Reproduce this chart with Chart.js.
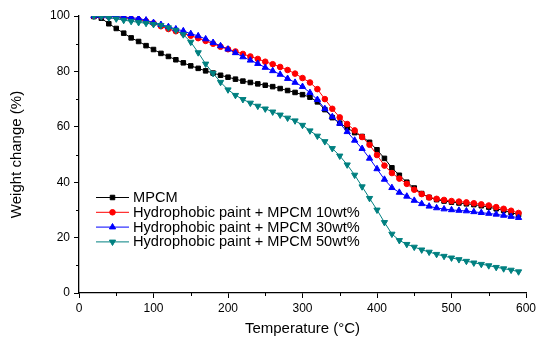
<!DOCTYPE html>
<html>
<head>
<meta charset="utf-8">
<script src="https://cdn.jsdelivr.net/npm/chart.js@4.4.1/dist/chart.umd.min.js"></script>
<style>
    html, body { margin: 0; padding: 0; background: #fff; }
    canvas { display: block; }
</style>
</head>
<body>
<canvas id="tgaChart" width="536" height="338"></canvas>
<script>
// ==========================
// DATA
// ==========================

const temps = [
    20, 30, 40, 50, 60, 70, 80, 90, 100, 110,
    120, 130, 140, 150, 160, 170, 180, 190, 200, 210,
    220, 230, 240, 250, 260, 270, 280, 290, 300, 310,
    320, 330, 340, 350, 360, 370, 380, 390, 400, 410,
    420, 430, 440, 450, 460, 470, 480, 490, 500, 510,
    520, 530, 540, 550, 560, 570, 580, 590
];

const mpcm = [
    99.8, 99.2, 97.2, 95.5, 93.8, 92.1, 90.8, 89.3, 87.9, 86.5,
    85.4, 84.2, 83.1, 82.0, 81.1, 80.2, 79.4, 78.6, 77.9, 77.2,
    76.5, 76.0, 75.5, 75.0, 74.5, 73.8, 73.1, 72.4, 71.6, 70.7,
    69.0, 66.2, 63.3, 61.3, 59.6, 57.9, 56.5, 54.4, 51.7, 48.6,
    45.2, 42.5, 40.0, 37.9, 35.9, 34.5, 33.7, 33.2, 32.8, 32.5,
    32.2, 31.9, 31.5, 31.0, 30.4, 29.8, 29.0, 28.3
];

const paint10 = [
    100, 99.9, 99.8, 99.6, 99.3, 99.0, 98.6, 98.1, 97.4, 96.3,
    95.3, 94.5, 93.7, 92.9, 92.0, 91.0, 90.0, 88.9, 88.0, 87.2,
    86.3, 85.4, 84.5, 83.5, 82.6, 81.6, 80.5, 79.2, 77.6, 76.0,
    73.6, 70.0, 66.5, 63.4, 61.0, 58.7, 56.3, 53.5, 49.8, 46.0,
    43.3, 41.3, 39.4, 37.3, 35.7, 34.5, 34.0, 33.6, 33.2, 33.0,
    32.7, 32.4, 32.0, 31.6, 31.0, 30.4, 29.7, 28.9
];

const paint30 = [
    100, 100, 99.9, 99.8, 99.6, 99.4, 99.1, 98.5, 97.6, 96.9,
    96.1, 95.3, 94.6, 93.6, 92.8, 91.7, 90.4, 89.2, 88.0, 86.7,
    85.2, 84.0, 82.8, 81.4, 80.2, 78.9, 77.4, 76.0, 74.5, 72.3,
    69.8, 66.5, 63.6, 61.2, 58.2, 55.1, 52.1, 48.6, 44.8, 41.0,
    38.0, 36.3, 34.9, 33.4, 32.2, 31.3, 30.7, 30.3, 30.0, 29.8,
    29.6, 29.3, 29.0, 28.7, 28.4, 28.0, 27.6, 27.2
];

const paint50 = [
    100, 99.8, 99.4, 99.0, 98.5, 98.1, 97.7, 97.4, 97.0, 96.6,
    95.8, 94.9, 93.3, 90.6, 86.8, 82.7, 79.3, 76.1, 73.4, 71.4,
    69.9, 68.6, 67.5, 66.5, 65.4, 64.3, 63.2, 62.2, 60.6, 58.6,
    56.7, 54.7, 52.2, 49.5, 46.3, 42.6, 38.4, 34.2, 30.0, 25.5,
    21.3, 19.0, 17.6, 16.6, 15.6, 14.8, 14.0, 13.3, 12.7, 12.1,
    11.5, 10.9, 10.4, 9.9, 9.3, 8.8, 8.3, 7.7
];

const seriesLabels = [
    "MPCM",
    "Hydrophobic paint + MPCM 10wt%",
    "Hydrophobic paint + MPCM 30wt%",
    "Hydrophobic paint + MPCM 50wt%"
];

const xTicks = [0, 100, 200, 300, 400, 500, 600];
const yTicks = [0, 20, 40, 60, 80, 100];

const FONT = '"Liberation Sans", Arial, sans-serif';

function toPoints(values) {
    return values.map((v, i) => ({ x: temps[i], y: v }));
}

// small outward minor ticks like the Origin plot
const minorTicks = {
    id: "minorTicks",
    afterDraw(chart) {
        const ctx = chart.ctx;
        const xs = chart.scales.x;
        const ys = chart.scales.y;
        const area = chart.chartArea;

        ctx.save();
        ctx.strokeStyle = "#000";
        ctx.lineWidth = 1;
        ctx.beginPath();
        for (let v = 50; v < 600; v += 100) {
            const px = Math.round(xs.getPixelForValue(v)) + 0.5;
            ctx.moveTo(px, area.bottom);
            ctx.lineTo(px, area.bottom + 3);
        }
        for (let v = 10; v < 100; v += 20) {
            const py = Math.round(ys.getPixelForValue(v)) + 0.5;
            ctx.moveTo(area.left, py);
            ctx.lineTo(area.left - 3, py);
        }
        ctx.stroke();
        ctx.restore();
    }
};

// legend inside the plot, line + marker + label
const insideLegend = {
    id: "insideLegend",
    afterDraw(chart) {
        const ctx = chart.ctx;

        chart.data.datasets.forEach((ds, i) => {
            const y = 197.5 + i * 14.8;

            ctx.save();
            ctx.strokeStyle = ds.borderColor;
            ctx.lineWidth = 1;
            ctx.beginPath();
            ctx.moveTo(96, y);
            ctx.lineTo(129, y);
            ctx.stroke();

            ctx.fillStyle = ds.pointBackgroundColor;
            ctx.strokeStyle = ds.borderColor;
            Chart.helpers.drawPoint(ctx, {
                pointStyle: ds.pointStyle,
                rotation: ds.pointRotation || 0,
                radius: ds.pointRadius,
                borderWidth: 1
            }, 112.5, y);

            ctx.fillStyle = "#000";
            ctx.font = "14.6px " + FONT;
            ctx.textBaseline = "middle";
            ctx.textAlign = "left";
            ctx.fillText(ds.label, 133, y + 0.5);
            ctx.restore();
        });
    }
};

const lineColors = ["#000000", "#ff0000", "#0000ff", "#008080"];

const canvas = document.getElementById("tgaChart");

new Chart(canvas, {
    type: "line",

    data: {
        datasets: [
            {
                label: seriesLabels[0],
                data: toPoints(mpcm),
                borderColor: lineColors[0],
                pointBackgroundColor: lineColors[0],
                pointStyle: "rect",
                pointRadius: 3.2,
                order: 4
            },
            {
                label: seriesLabels[1],
                data: toPoints(paint10),
                borderColor: lineColors[1],
                pointBackgroundColor: lineColors[1],
                pointStyle: "circle",
                pointRadius: 2.8,
                order: 3
            },
            {
                label: seriesLabels[2],
                data: toPoints(paint30),
                borderColor: lineColors[2],
                pointBackgroundColor: lineColors[2],
                pointStyle: "triangle",
                pointRadius: 3.6,
                order: 2
            },
            {
                label: seriesLabels[3],
                data: toPoints(paint50),
                borderColor: lineColors[3],
                pointBackgroundColor: lineColors[3],
                pointStyle: "triangle",
                pointRotation: 180,
                pointRadius: 3.6,
                order: 1
            }
        ]
    },

    options: {
        responsive: false,
        animation: false,
        devicePixelRatio: 1,

        datasets: {
            line: {
                borderWidth: 1,
                tension: 0,
                pointBorderWidth: 1,
                pointHoverRadius: 4
            }
        },

        layout: {
            padding: { top: 16, right: 10, left: 0, bottom: 0 }
        },

        plugins: {
            legend: { display: false },
            tooltip: { enabled: false }
        },

        scales: {
            x: {
                type: "linear",
                min: 0,
                max: 600,
                afterBuildTicks: (scale) => {
                    scale.ticks = xTicks.map(v => ({ value: v }));
                },
                afterFit: (scale) => {
                    scale.height = 45;
                    scale.paddingLeft = 0;
                    scale.paddingRight = 0;
                },
                grid: {
                    display: true,
                    drawOnChartArea: false,
                    drawTicks: true,
                    tickLength: 5,
                    color: "#000",
                    lineWidth: 1
                },
                border: { display: true, color: "#000", width: 1.3 },
                ticks: {
                    color: "#000",
                    padding: 3,
                    maxRotation: 0,
                    font: { family: FONT, size: 12 }
                },
                title: {
                    display: true,
                    text: "Temperature (°C)",
                    color: "#000",
                    padding: { top: 0, bottom: 0 },
                    font: { family: FONT, size: 15, lineHeight: 1.2 }
                }
            },
            y: {
                min: 0,
                max: 100,
                afterBuildTicks: (scale) => {
                    scale.ticks = yTicks.map(v => ({ value: v }));
                },
                afterFit: (scale) => {
                    scale.width = 79;
                    scale.paddingTop = 0;
                    scale.paddingBottom = 0;
                },
                grid: {
                    display: true,
                    drawOnChartArea: false,
                    drawTicks: true,
                    tickLength: 5,
                    color: "#000",
                    lineWidth: 1
                },
                border: { display: true, color: "#000", width: 1.3 },
                ticks: {
                    color: "#000",
                    padding: 4,
                    font: { family: FONT, size: 12 }
                },
                title: {
                    display: true,
                    text: "Weight change (%)",
                    color: "#000",
                    padding: { top: 8, bottom: 0 },
                    font: { family: FONT, size: 15, lineHeight: 1.2 }
                }
            }
        }
    },

    plugins: [minorTicks, insideLegend]
});
</script>
</body>
</html>
